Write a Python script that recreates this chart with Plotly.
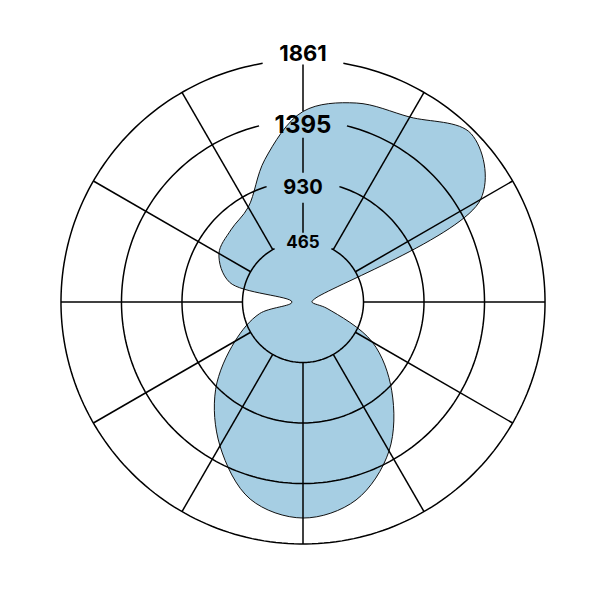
import numpy as np
import plotly.graph_objects as go

# readings every 15 degrees, clockwise from the top
angles = [0, 15, 30, 45, 60, 75, 90, 105, 120, 135, 150, 165,
          180, 195, 210, 225, 240, 255, 270, 285, 300, 315, 330, 345]
values = [1465, 1584, 1642, 1829, 1577, 92, 69, 192, 615, 965, 1323, 1576,
          1661, 1569, 1277, 950, 604, 346, 85, 584, 746, 784, 842, 1134]

ring_values = [465.25, 930.5, 1395.75, 1861]
ring_labels = ["465", "930", "1395", "1861"]

# style of the grid and labels
axis_max = 1930                           # a little room past the outer ring
plot_radius = 251                         # px for axis_max
label_sizes = [17, 20, 24, 22]
label_shift_px = [-2.5, -8, -6.5, 4]      # nudges the labels off their rings
ring_gaps = [28, 17.5, 14, 9.6]           # degrees left open around the labels
spoke_angles = list(range(30, 360, 30))
top_spoke_parts = [(532, 763), (994, 1263), (1467, 1826)]

fig = go.Figure()

# filled area
fig.add_trace(go.Scatterpolar(
    r=values + values[:1],
    theta=angles + angles[:1],
    mode="lines",
    fill="toself",
    fillcolor="#a6cee3",
    line=dict(color="#111111", width=1, shape="spline", smoothing=1),
    hoverinfo="skip",
))

# rings, broken where the labels sit
for rv, gap in zip(ring_values, ring_gaps):
    th = np.linspace(gap, 360 - gap, 240)
    fig.add_trace(go.Scatterpolar(
        r=[rv] * len(th), theta=th, mode="lines",
        line=dict(color="black", width=1.5), hoverinfo="skip",
    ))

# spokes from the inner ring to the outer ring
sr, st = [], []
for a in spoke_angles:
    sr += [ring_values[0], ring_values[-1], None]
    st += [a, a, None]
for lo, hi in top_spoke_parts:
    sr += [lo, hi, None]
    st += [0, 0, None]
fig.add_trace(go.Scatterpolar(
    r=sr, theta=st, mode="lines",
    line=dict(color="black", width=1.5), hoverinfo="skip",
))

# ring labels
px_to_r = axis_max / plot_radius
fig.add_trace(go.Scatterpolar(
    r=[v + s * px_to_r for v, s in zip(ring_values, label_shift_px)],
    theta=[0] * len(ring_values), mode="text",
    text=ring_labels, textposition="middle center",
    textfont=dict(family="Inter", size=label_sizes, color="black", weight="bold"),
    cliponaxis=False, hoverinfo="skip",
))

fig.update_layout(
    width=585, height=585,
    margin=dict(l=44, r=39, t=43, b=40),
    paper_bgcolor="white",
    showlegend=False,
    polar=dict(
        bgcolor="white",
        radialaxis=dict(visible=False, range=[0, axis_max]),
        angularaxis=dict(visible=False, rotation=90, direction="clockwise"),
    ),
)

fig.write_html("out.html")
